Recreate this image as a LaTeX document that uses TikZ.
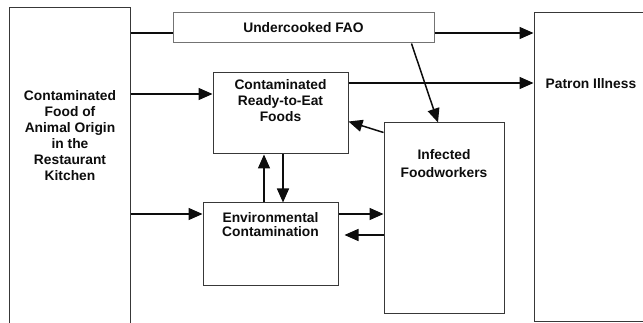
\documentclass[tikz,border=0pt]{standalone}
\usepackage{fontspec}
\setmainfont{Liberation Sans}
\usepackage{tikz}
\usetikzlibrary{arrows.meta,positioning}
\definecolor{FigureInk}{gray}{0.05}
\definecolor{PanelInk}{gray}{0.22}
\definecolor{FaoInk}{gray}{0.45}
\tikzset{
  figure/.style={x=1pt,y=-1pt,font=\fontsize{13.8}{16}\selectfont\bfseries,text=FigureInk},
  panel/.style={draw=PanelInk,line width=1pt,fill=white,inner sep=0pt},
  caption/.style={align=center,inner sep=0pt},
  flow/.style={-{Triangle[length=14pt,width=12pt]},line width=1.5pt,draw=FigureInk},
}

\begin{document}
\begin{tikzpicture}[figure]
  \useasboundingbox (0,0) rectangle (643,323);

  % boxes
  \node[panel,minimum width=121pt,minimum height=332pt] (food) at (69.5,174) {};
  \node[panel,draw=FaoInk,minimum width=261pt,minimum height=30pt] (fao) at (303.5,28)
    {Undercooked FAO};
  \node[panel,minimum width=126pt,minimum height=308.5pt] (patron) at (597,167.25) {};
  \node[panel,minimum width=135pt,minimum height=81pt] (rte) at (280.5,113.5) {};
  \node[panel,minimum width=135pt,minimum height=83pt] (env) at (270.5,244.5) {};
  \node[panel,minimum width=120pt,minimum height=191pt] (workers) at (444,218.5) {};

  % texts
  \node[caption] (foodText) at (70,135.5)
    {Contaminated\\Food of\\Animal Origin\\in the\\Restaurant\\Kitchen};
  \node[caption] (rteText) at ([yshift=-28pt]rte.north)
    {Contaminated\\Ready-to-Eat\\Foods};
  \node[caption,anchor=west] (patronText) at ([xshift=12pt,yshift=-71pt]patron.north west)
    {Patron Illness};
  \node[caption,font=\fontsize{13.8}{17.5}\selectfont\bfseries] (workersText)
    at ([yshift=-41pt]workers.north) {Infected\\Foodworkers};
  \node[caption,font=\fontsize{13.8}{14}\selectfont\bfseries] (envText)
    at ([yshift=-22pt]env.north) {Environmental\\Contamination};

  % connectors
  \draw[flow,-] (food.east |- 0,33) -- (fao.west |- 0,33);
  \draw[flow] (fao.east |- 0,33) -- (patron.west |- 0,33);
  \draw[flow] (food.east |- 0,94) -- (rte.west |- 0,94);
  \draw[flow] (rte.east |- 0,83) -- (patron.west |- 0,83);
  \draw[flow] ([xshift=108pt]fao.south) -- ([xshift=-6pt]workers.north);
  \draw[flow] ([yshift=-10pt]workers.north west) -- ([yshift=-49pt]rte.north east);
  \draw[flow] (env.north -| 264,0) -- (rte.south -| 264,0);
  \draw[flow] (rte.south -| 283,0) -- (env.north -| 283,0);
  \draw[flow] (food.east |- 0,214) -- (env.west |- 0,214);
  \draw[flow] (env.east |- 0,214) -- (workers.west |- 0,214);
  \draw[flow,shorten >=6pt] (workers.west |- 0,235) -- (env.east |- 0,235);
\end{tikzpicture}
\end{document}
